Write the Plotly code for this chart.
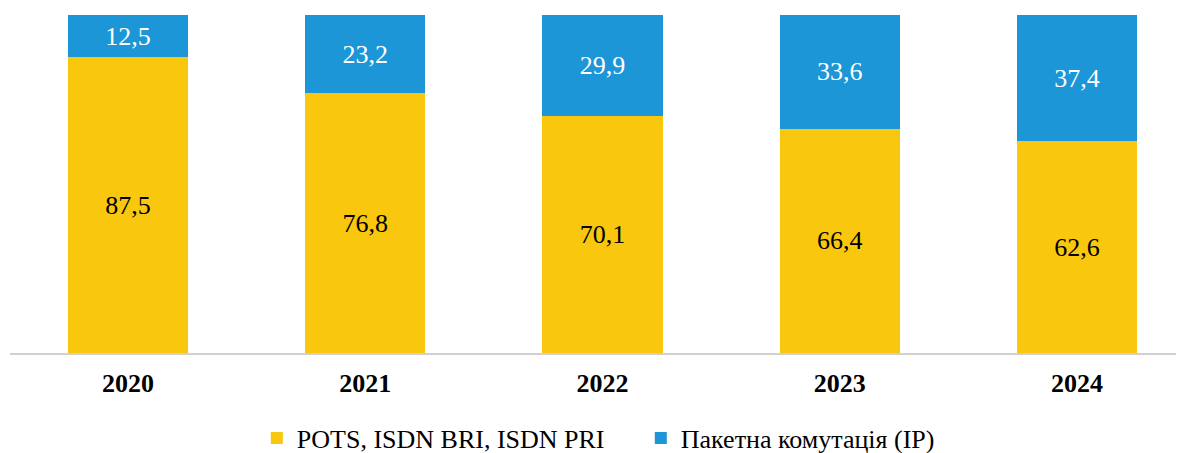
import plotly.graph_objects as go

years = ["2020", "2021", "2022", "2023", "2024"]
pots = [87.5, 76.8, 70.1, 66.4, 62.6]
ip = [12.5, 23.2, 29.9, 33.6, 37.4]

series_names = ["POTS, ISDN BRI, ISDN PRI", "Пакетна комутація (IP)"]
colors = ["#FAC70F", "#1C96D6"]
text_colors = ["#000000", "#FFFFFF"]

SERIF = "Liberation Serif, Times New Roman, serif"

fig = go.Figure()
for vals, name, col, tcol in zip([pots, ip], series_names, colors, text_colors):
    fig.add_trace(go.Bar(
        x=years, y=vals, name=name,
        marker=dict(color=col, line=dict(width=0)),
        texttemplate="%{y:.1f}", textposition="inside", insidetextanchor="middle",
        textfont=dict(family=SERIF, size=26, color=tcol),
        constraintext="none",
        hoverinfo="skip",
    ))

fig.update_layout(
    barmode="stack",
    bargap=0.494,
    separators=", ",
    width=1184, height=453,
    margin=dict(l=2, r=16, t=7, b=108, autoexpand=False),
    plot_bgcolor="white", paper_bgcolor="white",
    font=dict(family=SERIF, color="#000000"),
    showlegend=True,
    legend=dict(orientation="h", x=0.541, xanchor="center",
                yref="container", y=0.0508, yanchor="middle",
                font=dict(family=SERIF, size=26, color="#000000"),
                itemwidth=30, entrywidth=339, traceorder="normal"),
    uniformtext=dict(mode=False),
)
fig.update_xaxes(
    showline=True, linecolor="#D0D0D0", linewidth=2,
    ticks="", ticklabelstandoff=6, automargin=False,
    range=[-0.497, 4.417],
    tickfont=dict(family=SERIF, size=26, color="#000000", weight="bold"),
    showgrid=False,
)
fig.update_yaxes(visible=False, range=[0, 100], showgrid=False)

fig.write_html("out.html")
